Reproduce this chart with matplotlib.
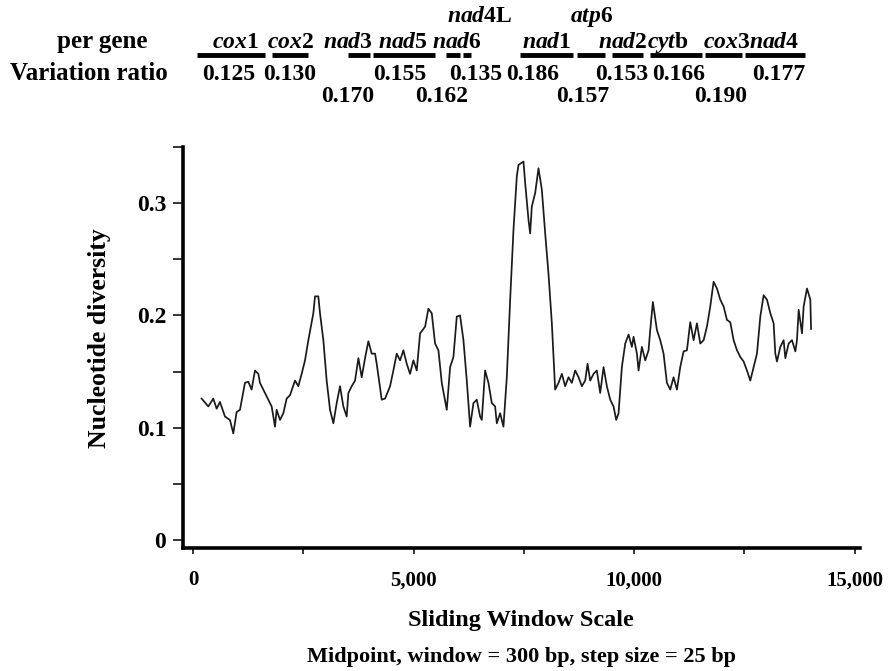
import matplotlib
matplotlib.use("Agg")
import matplotlib.pyplot as plt
import matplotlib.transforms as mtransforms
from matplotlib.ticker import MultipleLocator, FuncFormatter

# sliding window midpoints (bp) and nucleotide diversity
window_mid = [196, 348, 461, 537, 612, 726, 839, 915, 990, 1066, 1179, 1255, 1330, 1406, 1482,
              1519, 1595, 1708, 1784, 1860, 1897, 1973, 2049, 2124, 2200, 2313, 2389, 2464, 2540,
              2616, 2729, 2767, 2842, 2880, 2956, 3031, 3107, 3183, 3258, 3334, 3409, 3485, 3523,
              3598, 3674, 3750, 3825, 3901, 3976, 4052, 4128, 4165, 4279, 4354, 4468, 4543, 4619,
              4695, 4770, 4846, 4921, 4997, 5073, 5148, 5262, 5337, 5413, 5488, 5564, 5640, 5753,
              5829, 5904, 5980, 6055, 6131, 6207, 6282, 6358, 6433, 6509, 6547, 6622, 6698, 6774,
              6849, 6887, 6963, 7038, 7114, 7190, 7265, 7341, 7379, 7492, 7530, 7606, 7643, 7681,
              7757, 7832, 7908, 7984, 8059, 8135, 8210, 8286, 8362, 8437, 8513, 8588, 8664, 8740,
              8815, 8891, 8944, 9004, 9080, 9155, 9231, 9307, 9382, 9458, 9533, 9594, 9647, 9722,
              9798, 9874, 9949, 9987, 10063, 10100, 10176, 10252, 10327, 10365, 10425, 10516,
              10592, 10667, 10743, 10819, 10894, 10970, 11045, 11121, 11197, 11272, 11348, 11423,
              11499, 11575, 11650, 11726, 11801, 11877, 11953, 12028, 12104, 12179, 12255, 12331,
              12406, 12482, 12557, 12633, 12709, 12784, 12860, 12935, 13011, 13087, 13162, 13200,
              13238, 13313, 13389, 13427, 13502, 13578, 13654, 13691, 13729, 13805, 13842, 13918,
              13994, 14010]
diversity = [0.126, 0.119, 0.126, 0.117, 0.123, 0.110, 0.107, 0.095, 0.114, 0.116, 0.140, 0.141,
             0.134, 0.151, 0.148, 0.140, 0.134, 0.125, 0.119, 0.101, 0.116, 0.107, 0.113, 0.126,
             0.129, 0.142, 0.137, 0.148, 0.160, 0.178, 0.202, 0.217, 0.217, 0.202, 0.178, 0.142,
             0.116, 0.104, 0.122, 0.137, 0.119, 0.110, 0.131, 0.137, 0.142, 0.162, 0.145, 0.162,
             0.177, 0.166, 0.166, 0.157, 0.125, 0.126, 0.137, 0.151, 0.166, 0.160, 0.169, 0.157,
             0.148, 0.160, 0.151, 0.184, 0.190, 0.206, 0.202, 0.175, 0.169, 0.140, 0.116, 0.154,
             0.163, 0.199, 0.200, 0.178, 0.142, 0.101, 0.122, 0.125, 0.110, 0.107, 0.151, 0.140,
             0.122, 0.119, 0.104, 0.113, 0.101, 0.145, 0.214, 0.276, 0.324, 0.334, 0.337, 0.318,
             0.285, 0.273, 0.297, 0.309, 0.331, 0.312, 0.273, 0.237, 0.193, 0.134, 0.140, 0.148,
             0.137, 0.145, 0.140, 0.151, 0.145, 0.137, 0.142, 0.157, 0.142, 0.148, 0.151, 0.131,
             0.154, 0.137, 0.125, 0.119, 0.107, 0.113, 0.154, 0.175, 0.183, 0.172, 0.181, 0.166,
             0.151, 0.172, 0.160, 0.169, 0.187, 0.212, 0.187, 0.178, 0.166, 0.140, 0.134, 0.145,
             0.134, 0.154, 0.168, 0.169, 0.194, 0.178, 0.193, 0.175, 0.178, 0.190, 0.208, 0.230,
             0.224, 0.214, 0.208, 0.196, 0.194, 0.178, 0.169, 0.163, 0.159, 0.151, 0.142, 0.154,
             0.166, 0.199, 0.218, 0.214, 0.202, 0.193, 0.166, 0.159, 0.172, 0.178, 0.162, 0.175,
             0.178, 0.168, 0.178, 0.205, 0.184, 0.208, 0.224, 0.214, 0.188]

# gene boundaries (bp) and per-gene variation ratio
genes = ["cox1", "cox2", "nad3", "nad5", "nad4L", "nad6", "nad1", "atp6", "nad2", "cytb", "cox3", "nad4"]
gene_labels = [r"$cox$1", r"$\mathit{cox2}$", r"$\mathit{nad3}$", r"$\mathit{nad5}$", r"$nad$4L",
               r"$\mathit{nad6}$", r"$\mathit{nad1}$", r"$\mathit{atp6}$", r"$\mathit{nad2}$",
               r"$cyt$b", r"$cox$3", r"$\mathit{nad4}$"]
gene_start = [91, 1792, 3515, 4082, 5738, 6124, 7417, 8709, 9503, 10365, 11613, 12521]
gene_end = [1633, 2608, 4014, 5488, 6056, 6305, 8619, 9344, 10206, 11545, 12453, 13882]
variation_ratio = [0.125, 0.130, 0.170, 0.155, 0.162, 0.135, 0.186, 0.157, 0.153, 0.166, 0.190, 0.177]

plt.rcParams["font.family"] = ["Liberation Serif", "DejaVu Serif"]
plt.rcParams["font.weight"] = "bold"
plt.rcParams["mathtext.fontset"] = "custom"
plt.rcParams["mathtext.it"] = "Liberation Serif:italic:bold"
plt.rcParams["mathtext.rm"] = "Liberation Serif:bold"

fig = plt.figure(figsize=(8.88, 6.71), dpi=100)
ax = fig.add_axes([0.206, 0.183, 0.762, 0.598])

ax.plot(window_mid, diversity, color="#1a1a1a", lw=1.25)

ax.set_xlim(-227, 15110)
ax.set_ylim(-0.0072, 0.35)
ax.xaxis.set_major_locator(MultipleLocator(5000))
ax.xaxis.set_minor_locator(MultipleLocator(2500))
ax.yaxis.set_major_locator(MultipleLocator(0.1))
ax.yaxis.set_minor_locator(MultipleLocator(0.05))
ax.xaxis.set_major_formatter(FuncFormatter(lambda v, p: f"{int(v):,}"))
ax.yaxis.set_major_formatter(FuncFormatter(lambda v, p: "0" if v == 0 else f"{v:.1f}"))

for s in ["top", "right"]:
    ax.spines[s].set_visible(False)
for s in ["left", "bottom"]:
    ax.spines[s].set_linewidth(2.6)

ax.tick_params(axis="both", which="both", direction="out", width=1.1)
ax.tick_params(axis="y", which="both", length=7, pad=5, labelsize=17)
ax.tick_params(axis="x", which="both", length=4, pad=12, labelsize=15)
ax.set_ylabel("Nucleotide diversity", fontsize=18.5, fontweight="bold")
ax.yaxis.set_label_coords(-0.107, 0.524)

fig.text(0.587, 0.076, "Sliding Window Scale", ha="center", va="center", fontsize=17.5, fontweight="bold")
fig.text(0.587, 0.021, "Midpoint, window = 300 bp, step size = 25 bp", ha="center", va="center",
         fontsize=16, fontweight="bold")

# gene map above the plot
blend = mtransforms.blended_transform_factory(ax.transData, fig.transFigure)
fig.text(0.115, 0.938, "per gene", ha="center", va="center", fontsize=18, fontweight="bold")
fig.text(0.100, 0.890, "Variation ratio", ha="center", va="center", fontsize=18, fontweight="bold")

# layout nudges in pixels (label centre relative to bar centre)
px_bp = 22.68
name_shift = {"cox1": 4, "nad3": -11, "nad5": -1, "nad4L": 27, "nad6": -10, "nad2": -5,
              "cytb": -8, "cox3": 3, "nad4": -1}
ratio_shift = {"cox1": -2, "nad3": -11, "nad5": -4, "nad4L": -11, "nad6": 9, "nad1": -14,
               "atp6": -8, "nad2": -6, "cytb": 2, "cox3": -3, "nad4": 3}
upper_names = ["nad4L", "atp6"]
lower_ratios = ["nad3", "nad4L", "atp6", "cox3"]
for name, lab, x0, x1, r in zip(genes, gene_labels, gene_start, gene_end, variation_ratio):
    ax.plot([x0, x1], [0.918, 0.918], transform=blend, color="black", lw=3.5,
            solid_capstyle="butt", clip_on=False)
    mid = (x0 + x1) / 2
    ny = 0.975 if name in upper_names else 0.937
    ax.text(mid + name_shift.get(name, 0) * px_bp, ny, lab, transform=blend,
            ha="center", va="center", fontsize=17)
    ry = 0.856 if name in lower_ratios else 0.889
    ax.text(mid + ratio_shift.get(name, 0) * px_bp, ry, f"{r:.3f}", transform=blend,
            ha="center", va="center", fontsize=17)

fig.savefig("out.png", dpi=100)
